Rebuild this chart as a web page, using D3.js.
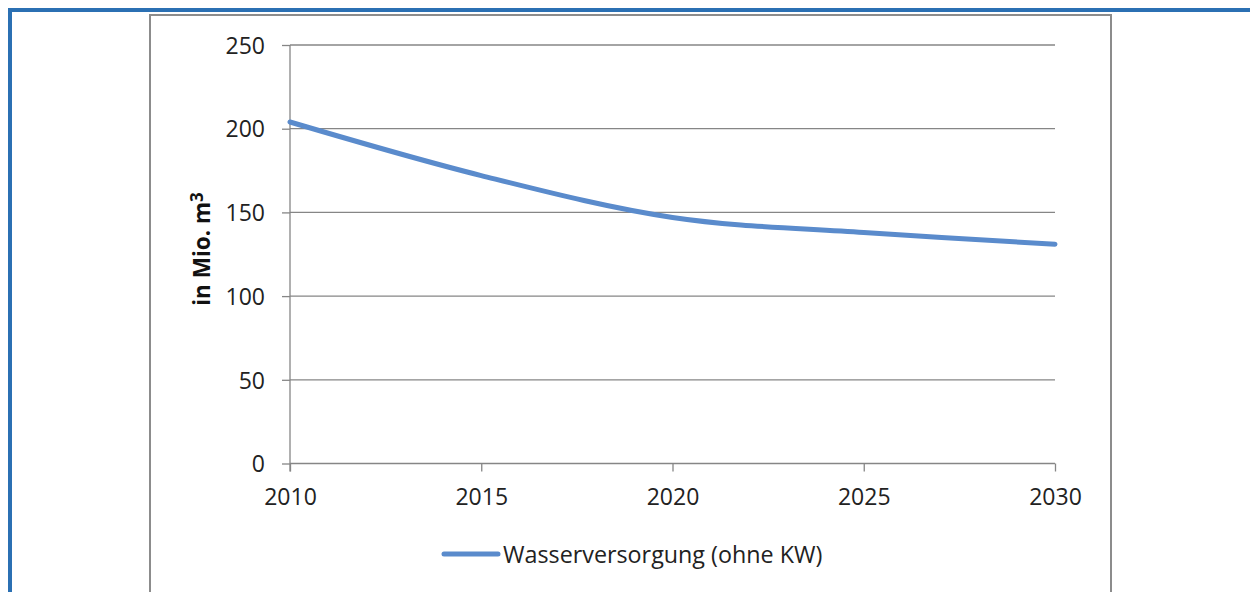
<!DOCTYPE html>
<html>
<head>
<meta charset="utf-8">
<script src="https://cdn.jsdelivr.net/npm/d3@7"></script>
<style>
  body { margin: 0; background: #fff; }
  svg { display: block; font-family: "Open Sans", sans-serif; }
</style>
</head>
<body>
<svg id="chart" width="1250" height="592"></svg>
<script>
// data
var years = [2010, 2015, 2020, 2025, 2030];
var wasser = [204, 172, 147, 138, 131];
var yTicks = [0, 50, 100, 150, 200, 250];
var seriesName = "Wasserversorgung (ohne KW)";

var svg = d3.select("#chart");
var grey = "#868686";
var font = "'Open Sans', sans-serif";

// blue page frame
svg.append("rect").attr("x", 8).attr("y", 8).attr("width", 1250).attr("height", 4).attr("fill", "#2b70b3");
svg.append("rect").attr("x", 8).attr("y", 8).attr("width", 4).attr("height", 600).attr("fill", "#2b70b3");

// chart area box
svg.append("rect")
  .attr("x", 150).attr("y", 15).attr("width", 961).attr("height", 620)
  .attr("fill", "none").attr("stroke", "#8c8c8c").attr("stroke-width", 2);

var x = d3.scaleLinear().domain([2010, 2030]).range([290, 1055]);
var y = d3.scaleLinear().domain([0, 250]).range([463.5, 45]);

// gridlines
svg.append("g").selectAll("line")
  .data(yTicks.slice(1))
  .enter().append("line")
    .attr("x1", x(2010)).attr("x2", x(2030))
    .attr("y1", function(d) { return y(d); })
    .attr("y2", function(d) { return y(d); })
    .attr("stroke", grey).attr("stroke-width", 1.3);

var yAxis = svg.append("g")
  .attr("transform", "translate(" + x(2010) + ",0)")
  .call(d3.axisLeft(y).tickValues(yTicks).tickSize(8).tickPadding(17));

var xAxis = svg.append("g")
  .attr("transform", "translate(0," + y(0) + ")")
  .call(d3.axisBottom(x).tickValues(years).tickFormat(d3.format("d")).tickSize(8).tickPadding(17));

[yAxis, xAxis].forEach(function(a) {
  a.attr("font-family", font).attr("font-size", 23);
  a.select(".domain").attr("stroke", grey).attr("stroke-width", 1.3);
  a.selectAll(".tick line").attr("stroke", grey).attr("stroke-width", 1.3);
  a.selectAll(".tick text").attr("fill", "#222");
});
yAxis.select(".domain").attr("d", "M0," + y(250) + "V" + (y(0) + 8));
xAxis.select(".domain").attr("d", "M" + x(2010) + ",0H" + x(2030));
yAxis.selectAll(".tick text").attr("dy", "0.36em");
xAxis.selectAll(".tick text").attr("dy", "0.71em");

// y title
var title = svg.append("text")
  .attr("transform", "translate(210,249) rotate(-90)")
  .attr("text-anchor", "middle")
  .style("font-size", "22.5px").style("font-weight", "bold").attr("fill", "#111");
title.append("tspan").text("in Mio. m");
title.append("tspan").attr("dy", "-0.42em").style("font-size", "17px").text("3");

// series line
var pts = years.map(function(d, i) { return [d, wasser[i]]; });
var line = d3.line()
  .x(function(d) { return x(d[0]); })
  .y(function(d) { return y(d[1]); })
  .curve(d3.curveCardinal.tension(0));

svg.append("path")
  .datum(pts)
  .attr("d", line)
  .attr("fill", "none")
  .attr("stroke", "#5a8bcc")
  .attr("stroke-width", 5)
  .attr("stroke-linecap", "round");

// legend
svg.append("line")
  .attr("x1", 444).attr("x2", 498).attr("y1", 554).attr("y2", 554)
  .attr("stroke", "#5a8bcc").attr("stroke-width", 5).attr("stroke-linecap", "round");
svg.append("text")
  .attr("x", 503).attr("y", 563)
  .style("font-size", "23.3px").attr("fill", "#222")
  .text(seriesName);
</script>
</body>
</html>
